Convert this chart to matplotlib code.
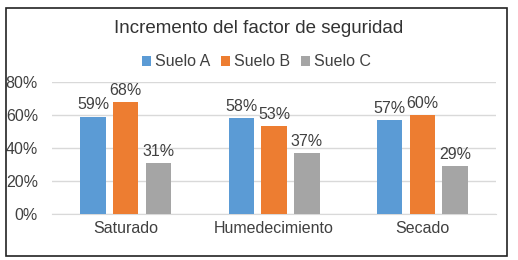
import matplotlib.pyplot as plt
import matplotlib.ticker as mtick
from matplotlib.patches import Rectangle
import numpy as np

plt.rcParams['font.family'] = ['Liberation Sans', 'DejaVu Sans']

categories = ['Saturado', 'Humedecimiento', 'Secado']
suelo_a = [0.59, 0.58, 0.57]
suelo_b = [0.68, 0.53, 0.60]
suelo_c = [0.31, 0.37, 0.29]
series = ['Suelo A', 'Suelo B', 'Suelo C']
colors = ['#5B9BD5', '#ED7D31', '#A5A5A5']

fig = plt.figure(figsize=(5.18, 2.6), dpi=100)
ax = fig.add_axes([0.100, 0.177, 0.858, 0.508])

x = np.arange(len(categories))
w = 0.17
step = 0.222
for i, (vals, name, c) in enumerate(zip([suelo_a, suelo_b, suelo_c], series, colors)):
    pos = x + (i - 1) * step
    ax.bar(pos, vals, w, color=c, label=name, zorder=3)
    for p, v in zip(pos, vals):
        ax.text(p, v + 0.025, f'{v:.0%}', ha='center', va='bottom',
                fontsize=11.5, color='#404040')

ax.set_xlim(-0.5, 2.5)
ax.set_ylim(0, 0.8)
ax.set_yticks([0, 0.2, 0.4, 0.6, 0.8])
ax.yaxis.set_major_formatter(mtick.PercentFormatter(1.0, decimals=0))
ax.set_xticks(x)
ax.set_xticklabels(categories)
ax.tick_params(axis='both', length=0, labelsize=11.5, labelcolor='#404040')
ax.tick_params(axis='y', pad=10)
ax.tick_params(axis='x', pad=5)
ax.grid(axis='y', color='#D9D9D9', linewidth=1, zorder=0)
for s in ['top', 'right', 'left']:
    ax.spines[s].set_visible(False)
ax.spines['bottom'].set_color('#D9D9D9')

fig.text(0.5, 0.892, 'Incremento del factor de seguridad', ha='center', va='center',
         fontsize=13.5, color='#333333')
handles, labels = ax.get_legend_handles_labels()
fig.legend(handles, labels, loc='center', bbox_to_anchor=(0.495, 0.762), ncol=3,
           frameon=False, fontsize=11.5, handlelength=0.55, handleheight=0.55,
           handletextpad=0.25, columnspacing=0.7, labelcolor='#404040')

fig.patches.append(Rectangle((6 / 518, 1 - 256 / 260), 501 / 518, 248 / 260,
                             transform=fig.transFigure, fill=False,
                             edgecolor='#222222', linewidth=1.2))

fig.savefig('out.png', dpi=100)
